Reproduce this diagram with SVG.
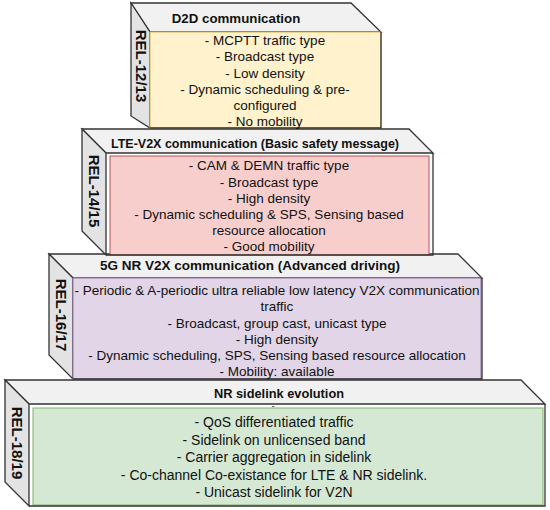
<svg xmlns="http://www.w3.org/2000/svg" width="550" height="510" viewBox="0 0 550 510">
<style>
.top{fill:#f1f1f1;stroke:#333;stroke-width:1.3;stroke-linejoin:miter}
.side{fill:#e3e3e3;stroke:#333;stroke-width:1.3}
.ttl{font-family:"Liberation Sans",Arial,sans-serif;font-weight:bold;fill:#111;text-anchor:middle}
.bd{font-family:"Liberation Sans",Arial,sans-serif;font-size:13.5px;fill:#111;text-anchor:middle}
.rel{font-family:"Liberation Sans",Arial,sans-serif;font-weight:bold;font-size:15px;fill:#111;text-anchor:middle;dominant-baseline:central}
</style>
<rect width="550" height="510" fill="#fff"/>

<g id="rel1819">
<polygon class="top" points="5,380 521,380 545,404 29,404"/>
<polygon class="side" points="5,380 29,404 29,506 5,482"/>
<text class="bd" x="273" y="408.5" style="font-size:9px">-</text>
<rect x="33" y="408" width="510" height="97" fill="#d5e8d4" stroke="#82b366" stroke-width="1"/>
<polyline points="545,404 545,506 29,506" fill="none" stroke="#333" stroke-width="1.3"/>
<text class="ttl" x="279" y="397.5" font-size="12.8">NR sidelink evolution</text>
<text class="rel" transform="translate(17,443) rotate(90)">REL-18/19</text>
<text class="bd" style="font-size:14px" x="274" y="427">- QoS differentiated traffic</text>
<text class="bd" style="font-size:14px" x="274" y="444.5">- Sidelink on unlicensed band</text>
<text class="bd" style="font-size:14px" x="274" y="462">- Carrier aggregation in sidelink</text>
<text class="bd" style="font-size:14px" x="274" y="479.5">- Co-channel Co-existance for LTE &amp; NR sidelink.</text>
<text class="bd" style="font-size:14px" x="274" y="497">- Unicast sidelink for V2N</text>
</g>

<g id="rel1617">
<polygon class="top" points="49,254 458,254 482,278 73,278"/>
<polygon class="side" points="49,254 73,278 73,379 49,355"/>
<rect x="73" y="278" width="408" height="101" fill="#e1d5e7" stroke="#9673a6" stroke-width="1"/>
<polyline points="482,278 482,379 73,379" fill="none" stroke="#333" stroke-width="1.3"/>
<text class="ttl" x="250" y="270" font-size="13.5">5G NR V2X communication (Advanced driving)</text>
<text class="rel" transform="translate(61,315) rotate(90)">REL-16/17</text>
<text class="bd" x="277" y="295">- Periodic &amp; A-periodic ultra reliable low latency V2X communication</text>
<text class="bd" x="277" y="311">traffic</text>
<text class="bd" x="277" y="327.5">- Broadcast, group cast, unicast type</text>
<text class="bd" x="277" y="344">- High density</text>
<text class="bd" x="277" y="360">- Dynamic scheduling, SPS, Sensing based resource allocation</text>
<text class="bd" x="277" y="376">- Mobility: available</text>
</g>

<g id="rel1415">
<polygon class="top" points="82,129 409,129 433,153 106,153"/>
<polygon class="side" points="82,129 106,153 106,255 82,231"/>
<rect x="110" y="156" width="319" height="99" fill="#f8cecc" stroke="#b85450" stroke-width="1"/>
<polyline points="433,153 433,255 106,255" fill="none" stroke="#333" stroke-width="1.3"/>
<text class="ttl" x="255" y="148" font-size="12.5">LTE-V2X communication (Basic safety message)</text>
<text class="rel" transform="translate(94,191) rotate(90)">REL-14/15</text>
<text class="bd" x="269" y="170">- CAM &amp; DEMN traffic type</text>
<text class="bd" x="269" y="186.5">- Broadcast type</text>
<text class="bd" x="269" y="202.5">- High density</text>
<text class="bd" x="269" y="219">- Dynamic scheduling &amp; SPS, Sensing based</text>
<text class="bd" x="269" y="235">resource allocation</text>
<text class="bd" x="269" y="251">- Good mobility</text>
</g>

<g id="rel1213">
<polygon class="top" points="131,3 351,3 381,32 150,32"/>
<polygon class="side" points="131,3 150,32 150,128 131,116"/>
<rect x="150" y="32" width="231" height="96" fill="#fff2cc" stroke="#d6b656" stroke-width="1"/>
<polyline points="381,32 381,128 150,128" fill="none" stroke="#333" stroke-width="1.3"/>
<text class="ttl" x="236" y="23" font-size="13.3">D2D communication</text>
<text class="rel" transform="translate(141,66) rotate(90)">REL-12/13</text>
<text class="bd" x="265" y="45">- MCPTT traffic type</text>
<text class="bd" x="265" y="61">- Broadcast type</text>
<text class="bd" x="265" y="77.5">- Low density</text>
<text class="bd" x="265" y="93.5">- Dynamic scheduling &amp; pre-</text>
<text class="bd" x="265" y="110">configured</text>
<text class="bd" x="265" y="126">- No mobility</text>
</g>
</svg>
